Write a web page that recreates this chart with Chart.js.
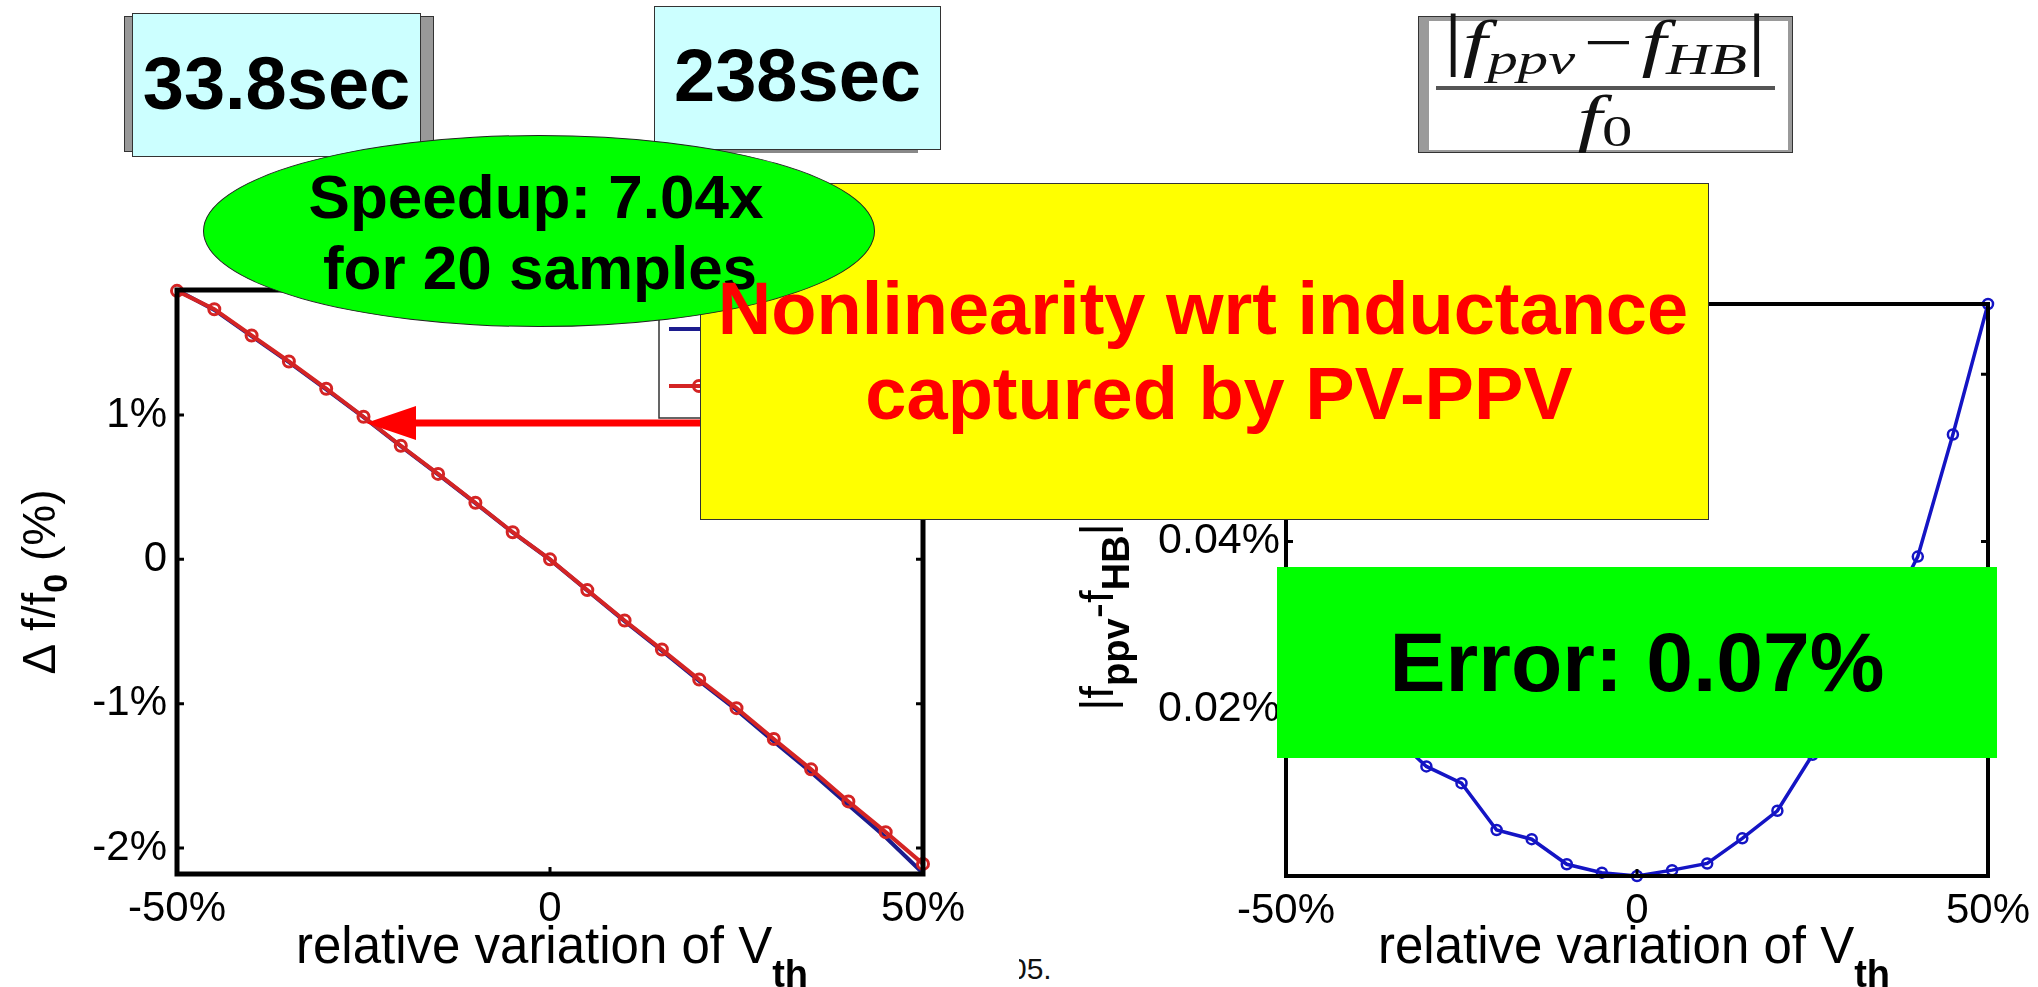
<!DOCTYPE html>
<html>
<head>
<meta charset="utf-8">
<script src="https://cdn.jsdelivr.net/npm/chart.js@4.4.1/dist/chart.umd.min.js"></script>
<style>
  body { margin: 0; width: 2038px; height: 987px; background: #fff; position: relative; overflow: hidden;
         font-family: 'Liberation Sans', Arial, Helvetica, sans-serif; }
  .abs { position: absolute; box-sizing: border-box; }
  canvas { position: absolute; z-index: 1; }
  #leftChart { left: 0; top: 250px; }
  #rightChart { left: 1040px; top: 250px; }
  .box { background: #ccffff; border: 1px solid #333; z-index: 3; }
  .boxText { z-index: 4; font-weight: bold; font-size: 74px; line-height: 80px; text-align: center; color: #000; }
  #ellipse { left: 203px; top: 135px; width: 672px; height: 192px; border-radius: 50%;
             background: #00ff00; border: 1px solid #222; z-index: 6; }
  .ellText { z-index: 7; left: 236px; width: 600px; font-weight: bold; font-size: 62px; line-height: 71px;
             text-align: center; color: #000; white-space: nowrap; }
  #yellow { left: 700px; top: 183px; width: 1009px; height: 337px; background: #ffff00; border: 1px solid #333; z-index: 5; }
  .redText { z-index: 8; font-weight: bold; font-size: 74px; line-height: 85px; color: #ff0000;
             text-align: center; white-space: nowrap; width: 1100px; }
  #errBox { left: 1277px; top: 567px; width: 720px; height: 191px; background: #00ff00; z-index: 9;
            font-weight: bold; font-size: 84px; line-height: 191px; text-align: center; color: #000; }
  #arrow { left: 0; top: 0; z-index: 2; }
  .frac { z-index: 4; left: 1405px; width: 400px; text-align: center; color: #111; white-space: nowrap;
          font-family: 'Liberation Serif', 'DejaVu Serif', serif; font-style: italic; font-size: 64px; line-height: 64px; }
  .frac span.in { display: inline-block; transform-origin: 50% 50%; }
  .frac .bar { font-style: normal; font-size: 70px; vertical-align: 2px; }
  .frac .op { font-style: normal; margin: 0 6px; }
  .frac sub { font-size: 44px; vertical-align: -10px; line-height: 0; }
  .frac sub.up { font-style: normal; vertical-align: -7px; }
  #foot { left: 1019px; top: 952px; width: 60px; height: 35px; overflow: hidden; z-index: 0; }
  #foot span { position: absolute; left: -9px; top: 0; font-size: 30px; line-height: 34px; color: #111; }
</style>
</head>
<body>
<canvas id="leftChart" width="1000" height="737"></canvas>
<canvas id="rightChart" width="998" height="737"></canvas>

<!-- timing boxes -->
<div class="abs" style="left:124px;top:16px;width:310px;height:136px;background:#999;border:1px solid #333;z-index:2;"></div>
<div class="abs box" style="left:132px;top:13px;width:289px;height:144px;"></div>
<div class="abs boxText" style="left:132px;top:44px;width:289px;">33.8sec</div>
<div class="abs" style="left:656px;top:9px;width:262px;height:144px;background:#888;z-index:2;"></div>
<div class="abs box" style="left:654px;top:6px;width:287px;height:144px;"></div>
<div class="abs boxText" style="left:654px;top:36px;width:287px;">238sec</div>

<!-- formula box -->
<div class="abs" style="left:1418px;top:16px;width:375px;height:137px;background:#9a9a9a;border:1px solid #333;z-index:2;"></div>
<div class="abs" style="left:1429px;top:21px;width:359px;height:129px;background:#fff;z-index:3;"></div>
<div class="abs frac" style="top:7px;"><span class="in" id="numIn"><span class="bar">|</span>f<sub>ppv</sub><span class="op">−</span>f<sub>HB</sub><span class="bar">|</span></span></div>
<div class="abs" style="left:1436px;top:86px;width:339px;height:4px;background:#555;z-index:4;"></div>
<div class="abs frac" style="top:86px;"><span class="in" id="denIn">f<sub class="up">0</sub></span></div>

<!-- annotations -->
<svg id="arrow" class="abs" width="2038" height="987">
  <line x1="705" y1="423" x2="410" y2="423" stroke="#ff0000" stroke-width="7"/>
  <polygon points="366,423 416,406 416,440" fill="#ff0000"/>
</svg>
<div class="abs" id="yellow"></div>
<div class="abs" id="ellipse"></div>
<div class="abs ellText" style="top:161px;">Speedup: 7.04x</div>
<div class="abs ellText" style="top:232px;left:240px;">for 20 samples</div>
<div class="abs redText" style="left:653px;top:266px;">Nonlinearity wrt inductance</div>
<div class="abs redText" style="left:669px;top:351px;">captured by PV-PPV</div>
<div class="abs" id="errBox">Error: 0.07%</div>
<div class="abs" id="foot"><span>05.</span></div>

<script>
// relative variation of Vth (%)
const variation = [-50, -45, -40, -35, -30, -25, -20, -15, -10, -5, 0, 5, 10, 15, 20, 25, 30, 35, 40, 45, 50];
// frequency shift delta f / f0 (%) -- PV-PPV (red, markers) and HB (blue)
const shiftPPV = [1.86, 1.733, 1.551, 1.371, 1.182, 0.988, 0.787, 0.592, 0.392, 0.188, 0, -0.213, -0.424, -0.625, -0.833, -1.031, -1.245, -1.455, -1.677, -1.89, -2.11];
const shiftHB = [1.866, 1.728, 1.546, 1.366, 1.178, 0.985, 0.784, 0.589, 0.389, 0.186, -0.002, -0.216, -0.428, -0.632, -0.842, -1.044, -1.262, -1.475, -1.702, -1.925, -2.175];
// |f_ppv - f_HB| / f0 (%)
const errorPPV = [0.028, 0.0245, 0.021, 0.017, 0.0131, 0.0111, 0.0055, 0.0044, 0.0014, 0.0004, 0.0, 0.0007, 0.0015, 0.0045, 0.0078, 0.0145, 0.022, 0.030, 0.0382, 0.0528, 0.0684];

// tick positions
const xTicks = [-50, 0, 50];
const leftYTicks = [-2, -1, 0, 1];
const rightYTicks = [0.02, 0.04, 0.06];

Chart.defaults.font.family = "'Liberation Sans', Arial, Helvetica, sans-serif";
Chart.defaults.color = '#000';
Chart.defaults.animation = false;

function pts(ys) {
    return variation.map((x, i) => ({ x: x, y: ys[i] }));
}

function fontOf(p) {
    return (p.b ? 'bold ' : '') + p.s + "px 'Liberation Sans', Arial, sans-serif";
}

// draw a run of text pieces (with subscripts) centred on x
function drawRich(ctx, parts, x, y) {
    let total = 0;
    parts.forEach(p => { ctx.font = fontOf(p); p.w = ctx.measureText(p.t).width; total += p.w; });
    let cx = x - total / 2;
    ctx.textAlign = 'left';
    ctx.textBaseline = 'alphabetic';
    parts.forEach(p => { ctx.font = fontOf(p); ctx.fillText(p.t, cx, y + (p.dy || 0)); cx += p.w; });
}

// matlab style box, inward ticks, axis titles (+ optional legend)
function matlabFrame(cfg) {
    return {
        id: 'matlabFrame',
        afterDraw(chart) {
            const { ctx, chartArea: a, scales: { x, y } } = chart;
            ctx.save();
            ctx.fillStyle = '#000';
            ctx.strokeStyle = '#000';

            if (cfg.legend) {
                const L = cfg.legend;
                ctx.fillStyle = '#fff';
                ctx.fillRect(L.x, L.y, L.w, L.h);
                ctx.lineWidth = 1.5;
                ctx.strokeStyle = '#333';
                ctx.strokeRect(L.x, L.y, L.w, L.h);
                chart.data.datasets.forEach((ds, i) => {
                    const ly = L.rows[i];
                    ctx.strokeStyle = ds.borderColor;
                    ctx.lineWidth = ds.borderWidth;
                    ctx.beginPath(); ctx.moveTo(L.x + 10, ly); ctx.lineTo(L.x + 70, ly); ctx.stroke();
                    if (ds.pointRadius) {
                        ctx.lineWidth = ds.pointBorderWidth;
                        ctx.beginPath(); ctx.arc(L.x + 40, ly, ds.pointRadius, 0, Math.PI * 2); ctx.stroke();
                    }
                    ctx.fillStyle = '#000';
                    ctx.font = "30px 'Liberation Sans', Arial, sans-serif";
                    ctx.textBaseline = 'middle';
                    ctx.fillText(ds.label, L.x + 80, ly);
                });
                ctx.strokeStyle = '#000';
                ctx.fillStyle = '#000';
            }

            ctx.lineWidth = cfg.lw;
            ctx.strokeRect(a.left, a.top, a.right - a.left, a.bottom - a.top);

            ctx.lineWidth = 3;
            const tk = cfg.tick;
            ctx.beginPath();
            y.ticks.forEach(t => {
                const py = y.getPixelForValue(t.value);
                ctx.moveTo(a.left, py); ctx.lineTo(a.left + tk, py);
                ctx.moveTo(a.right, py); ctx.lineTo(a.right - tk, py);
            });
            x.ticks.forEach(t => {
                const px = x.getPixelForValue(t.value);
                ctx.moveTo(px, a.bottom); ctx.lineTo(px, a.bottom - tk);
                ctx.moveTo(px, a.top); ctx.lineTo(px, a.top + tk);
            });
            ctx.stroke();

            // x title
            drawRich(ctx, cfg.xTitle, (a.left + a.right) / 2 + cfg.xTitleDx, a.bottom + cfg.xTitleDy);

            // y title, rotated
            ctx.translate(cfg.yTitleX, (a.top + a.bottom) / 2 + cfg.yTitleDy);
            ctx.rotate(-Math.PI / 2);
            drawRich(ctx, cfg.yTitle, 0, 0);
            ctx.restore();
        }
    };
}

function xScale(height) {
    return {
        type: 'linear', min: -50, max: 50,
        grid: { display: false, drawTicks: false },
        border: { display: false },
        ticks: { font: { size: 42 }, padding: 10, maxRotation: 0, autoSkip: false,
                 callback: v => v === 0 ? '0' : v + '%' },
        afterBuildTicks: s => { s.ticks = xTicks.map(v => ({ value: v })); },
        afterFit: s => { s.height = height; s.paddingLeft = 0; s.paddingRight = 0; }
    };
}

const xTitleParts = () => [
    { t: 'relative variation of V', s: 51 },
    { t: 'th', s: 38, b: true, dy: 24 }
];

// ---------- left chart: frequency shift ----------
new Chart(document.getElementById('leftChart'), {
    type: 'line',
    data: {
        datasets: [
            {
                label: 'PPV',
                data: pts(shiftPPV),
                borderColor: '#d42424',
                borderWidth: 4,
                pointRadius: 5.5,
                pointBorderWidth: 3,
                pointBorderColor: '#d42424',
                pointBackgroundColor: 'rgba(255,255,255,0)',
                tension: 0,
                clip: 8
            },
            {
                label: 'HB',
                data: pts(shiftHB),
                borderColor: '#1c1c8e',
                borderWidth: 4,
                pointRadius: 0,
                tension: 0,
                clip: 8
            }
        ]
    },
    options: {
        responsive: false,
        layout: { padding: { top: 40, right: 77, bottom: 0, left: 0 } },
        plugins: { legend: { display: false }, tooltip: { enabled: false } },
        scales: {
            x: xScale(113),
            y: {
                min: -2.18, max: 1.866,
                grid: { display: false, drawTicks: false },
                border: { display: false },
                ticks: { font: { size: 42 }, padding: 10, callback: v => v === 0 ? '0' : v + '%' },
                afterBuildTicks: s => { s.ticks = leftYTicks.map(v => ({ value: v })); },
                afterFit: s => { s.width = 177; s.paddingTop = 0; s.paddingBottom = 0; }
            }
        }
    },
    plugins: [matlabFrame({
        lw: 5, tick: 7,
        xTitle: xTitleParts(), xTitleDx: 2, xTitleDy: 89,
        yTitle: [{ t: 'Δ f/f', s: 46 }, { t: '0', s: 34, b: true, dy: 12 }, { t: ' (%)', s: 46 }],
        yTitleX: 55, yTitleDy: 0,
        legend: { x: 659, y: 50, w: 330, h: 118, rows: [136, 79] }
    })]
});

// ---------- right chart: error ----------
new Chart(document.getElementById('rightChart'), {
    type: 'line',
    data: {
        datasets: [
            {
                label: '|f_ppv - f_HB| / f0',
                data: pts(errorPPV),
                borderColor: '#1414c4',
                borderWidth: 3.5,
                pointRadius: 5,
                pointBorderWidth: 2.5,
                pointBorderColor: '#1414c4',
                pointBackgroundColor: 'rgba(255,255,255,0)',
                tension: 0,
                clip: 8
            }
        ]
    },
    options: {
        responsive: false,
        layout: { padding: { top: 54, right: 50, bottom: 0, left: 0 } },
        plugins: { legend: { display: false }, tooltip: { enabled: false } },
        scales: {
            x: xScale(111),
            y: {
                min: 0, max: 0.0684,
                grid: { display: false, drawTicks: false },
                border: { display: false },
                ticks: { font: { size: 43 }, padding: 6, callback: v => v.toFixed(2) + '%' },
                afterBuildTicks: s => { s.ticks = rightYTicks.map(v => ({ value: v })); },
                afterFit: s => { s.width = 246; s.paddingTop = 0; s.paddingBottom = 0; }
            }
        }
    },
    plugins: [matlabFrame({
        lw: 4, tick: 7,
        xTitle: xTitleParts(), xTitleDx: -3, xTitleDy: 87,
        yTitle: [{ t: '|f', s: 46 }, { t: 'ppv', s: 38, b: true, dy: 16 }, { t: '-f', s: 46 },
                 { t: 'HB', s: 38, b: true, dy: 16 }, { t: '|', s: 46 }],
        yTitleX: 73, yTitleDy: 27
    })]
});

// stretch the formula like the pasted equation image
const numIn = document.getElementById('numIn');
const denIn = document.getElementById('denIn');
const k = 323 / numIn.offsetWidth;
numIn.style.transform = 'scaleX(' + k + ')';
denIn.style.transform = 'scaleX(' + k + ')';
</script>
</body>
</html>
